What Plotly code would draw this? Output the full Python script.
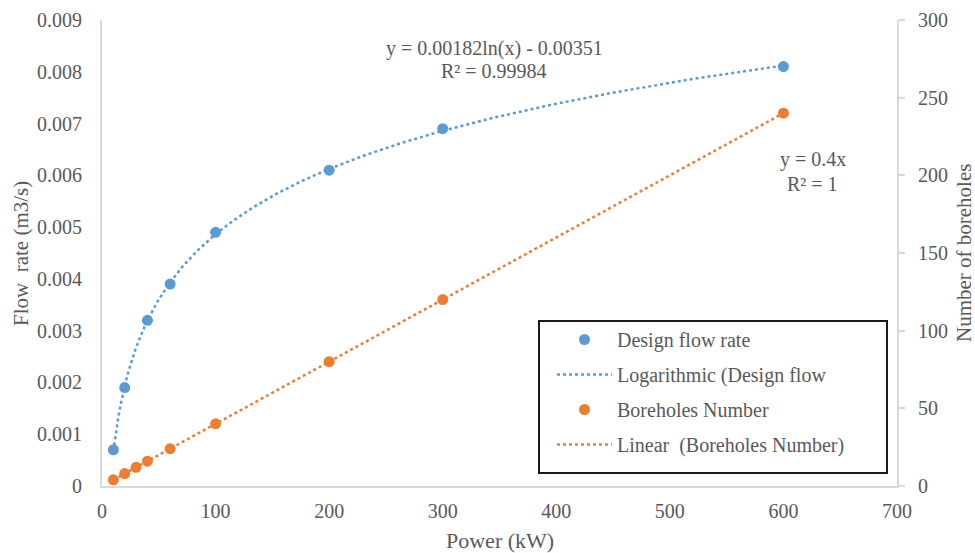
import numpy as np
import plotly.graph_objects as go

# ---- data ----
flow_power = [10, 20, 40, 60, 100, 200, 300, 600]
flow_rate = [0.0007, 0.0019, 0.0032, 0.0039, 0.0049, 0.0061, 0.0069, 0.0081]
bore_power = [10, 20, 30, 40, 60, 100, 200, 300, 600]
bore_count = [4, 8, 12, 16, 24, 40, 80, 120, 240]

names = ["Design flow rate", "Logarithmic (Design flow", "Boreholes Number", "Linear  (Boreholes Number)"]
eq_log = ["y = 0.00182ln(x) - 0.00351", "R² = 0.99984"]
eq_lin = ["y = 0.4x", "R² = 1"]
x_title = "Power (kW)"
y_title = "Flow  rate (m3/s)"
y2_title = "Number of boreholes"

BLUE = "#5b9bd5"
ORANGE = "#ed7d31"
TXT = "#595959"
AX = "#d9d9d9"
FONT = "Times New Roman, Liberation Serif, DejaVu Serif, serif"
FS = 20

# trendlines fitted from the data (as the spreadsheet does)
a, b = np.polyfit(np.log(flow_power), flow_rate, 1)
xs_log = np.linspace(min(flow_power), max(flow_power), 400)
ys_log = a * np.log(xs_log) + b
m, c = np.polyfit(bore_power, bore_count, 1)
xs_lin = np.array([min(bore_power), max(bore_power)], dtype=float)
ys_lin = m * xs_lin + c

fig = go.Figure()
fig.add_trace(go.Scatter(x=xs_log, y=ys_log, mode="lines", name=names[1], legendgroup="b",
                         line=dict(color=BLUE, width=2.5, dash="3px,3px"), legendrank=2))
fig.add_trace(go.Scatter(x=xs_lin, y=ys_lin, mode="lines", name=names[3], legendgroup="d", yaxis="y2",
                         line=dict(color=ORANGE, width=2.5, dash="3px,3px"), legendrank=4))
fig.add_trace(go.Scatter(x=flow_power, y=flow_rate, mode="markers", name=names[0], legendgroup="a",
                         marker=dict(color=BLUE, size=11), legendrank=1))
fig.add_trace(go.Scatter(x=bore_power, y=bore_count, mode="markers", name=names[2], legendgroup="c", yaxis="y2",
                         marker=dict(color=ORANGE, size=11), legendrank=3))

L, R, T, B = 102, 78, 20, 67
PW, PH = 975 - L - R, 553 - T - B

def px(x):
    return (x - L) / PW

def py(y):
    return (553 - B - y) / PH

tickfont = dict(family=FONT, size=FS, color=TXT)

fig.update_layout(
    width=975, height=553,
    margin=dict(l=L, r=R, t=T, b=B, autoexpand=False),
    paper_bgcolor="white", plot_bgcolor="white",
    font=dict(family=FONT, size=FS, color=TXT),
    showlegend=True,
    legend=dict(x=px(552), y=py(320), xanchor="left", yanchor="top",
                bgcolor="rgba(0,0,0,0)", borderwidth=0, tracegroupgap=6,
                itemwidth=55, font=dict(family=FONT, size=FS, color=TXT)),
    xaxis=dict(range=[0, 700], dtick=100, showgrid=False, zeroline=False,
               showline=True, linecolor=AX, linewidth=2, automargin=False, tickfont=tickfont,
               ticks="outside", ticklen=6, tickcolor="rgba(0,0,0,0)"),
    yaxis=dict(range=[0, 0.009], dtick=0.001, showgrid=False, zeroline=False,
               showline=True, linecolor=AX, linewidth=2, tickformat="~g", automargin=False,
               tickfont=tickfont, ticks="outside", ticklen=14, tickcolor="rgba(0,0,0,0)"),
    yaxis2=dict(range=[0, 300], dtick=50, overlaying="y", side="right", automargin=False,
                showgrid=False, zeroline=False, showline=True, linecolor=AX, linewidth=2,
                tickfont=tickfont, ticks="outside", ticklen=6, tickcolor=AX, tickwidth=2,
                ticklabelstandoff=9),
)

fig.add_shape(type="rect", xref="paper", yref="paper",
              x0=px(539), x1=px(887), y0=py(473), y1=py(321),
              line=dict(color="#1a1a1a", width=2), fillcolor="rgba(0,0,0,0)")

def note(x, y, text, angle=0, size=FS):
    fig.add_annotation(xref="paper", yref="paper", x=px(x), y=py(y), text=text,
                       showarrow=False, textangle=angle, xanchor="center", yanchor="middle",
                       font=dict(family=FONT, size=size, color=TXT))

note(494, 48, eq_log[0])
note(494, 71, eq_log[1])
note(813, 160, eq_lin[0])
note(812, 184, eq_lin[1])
note(500, 540, x_title, size=22)
note(21, 254, y_title, -90, size=21)
note(964, 253, y2_title, -90, size=21)

fig.write_html("out.html")
